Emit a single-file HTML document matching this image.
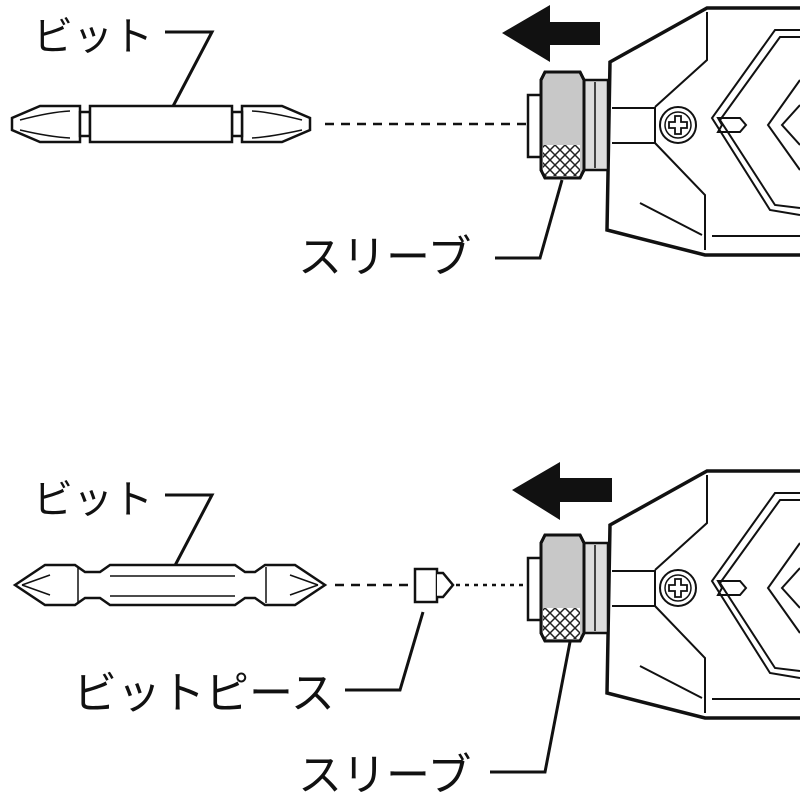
<!DOCTYPE html>
<html><head><meta charset="utf-8"><style>
html,body{margin:0;padding:0;background:#fff}
svg{display:block}
text{font-family:"Liberation Sans","Noto Sans CJK JP",sans-serif;fill:#111}
</style></head><body>
<svg width="800" height="800" viewBox="0 0 800 800" xmlns="http://www.w3.org/2000/svg">
<defs>
<pattern id="kn" width="10" height="10" patternUnits="userSpaceOnUse">
<rect width="10" height="10" fill="#fff"/>
<path d="M0 0L10 10M10 0L0 10" stroke="#222" stroke-width="1.5"/>
</pattern>
<g id="tool" stroke="#111" fill="none">
<path d="M800 8H707L610 62L607 230L705 255H800" stroke-width="3.5"/>
<path d="M707 12V60L655 107M655 143L705 195V250M640 203L702 235M712 236H800" stroke-width="2"/>
<path d="M612 108H655V143H612" stroke-width="2"/>
<path d="M800 30H775L712 118L770 210L800 215M800 37H780L720 120L775 205L800 208M800 80L768 125L800 170M800 105L782 125L800 145" stroke-width="2"/>
<path d="M718 118H740L746 125L740 132H718L722 125Z" stroke-width="2"/>
<circle cx="678" cy="125" r="18" stroke-width="2"/>
<circle cx="678" cy="125" r="13" stroke-width="1.5"/>
<path d="M675 116h6v6h6v6h-6v6h-6v-6h-6v-6h6z" stroke-width="1.8"/>
<rect x="528" y="95" width="13" height="62" fill="#fff" stroke-width="2.5"/>
<rect x="582" y="80" width="26" height="90" fill="#ddd" stroke-width="2.5"/>
<line x1="595" y1="82" x2="595" y2="168" stroke-width="1.5"/>
<path d="M545 72H580L584 80V170L580 178H545L541 170V80Z" fill="#c8c8c8" stroke-width="3"/>
<path d="M543 145H580V176H543Z" fill="url(#kn)" stroke="none"/>
<path d="M545 72H580L584 80V170L580 178H545L541 170V80Z" stroke-width="3"/>
</g>
</defs>

<!-- TOP -->
<text x="33" y="50" font-size="40">ビット</text>
<path d="M165 32H212L170 112" fill="none" stroke="#111" stroke-width="3"/>
<g stroke="#111" stroke-width="2.5" fill="#fff">
<path d="M80 106H40L12 118V130L40 142H80Z"/>
<path d="M242 106H282L310 118V130L282 142H242Z"/>
<rect x="80" y="112" width="10" height="24"/>
<rect x="232" y="112" width="10" height="24"/>
<rect x="90" y="106" width="142" height="36"/>
<path d="M20 120Q50 112 70 111M20 130Q50 137 70 138M302 120Q270 112 252 111M302 130Q270 137 252 138" fill="none" stroke-width="1.5"/>
</g>
<line x1="325" y1="124" x2="528" y2="124" stroke="#111" stroke-width="2.5" stroke-dasharray="9,7"/>
<path d="M502 33L550 5V22H600V45H550V62Z" fill="#111"/>
<use href="#tool"/>
<path d="M562 180L540 258H495" fill="none" stroke="#111" stroke-width="3"/>
<text x="298" y="272" font-size="44">スリーブ</text>

<!-- BOTTOM -->
<text x="33" y="513" font-size="40">ビット</text>
<path d="M165 495H212L170 575" fill="none" stroke="#111" stroke-width="3"/>
<g stroke="#111" stroke-width="2.5" fill="#fff">
<path d="M15 585L45 565H75L85 572L100 572L110 565H235L245 572L255 572L265 565H295L325 585L295 605H265L255 598L245 598L235 605H110L100 598L85 598L75 605H45Z"/>
<path d="M110 576H235M110 596H235M78 567V603M266 567V603M22 585L50 575M22 585L50 595M318 585L290 575M318 585L290 595" fill="none" stroke-width="1.5"/>
</g>
<line x1="335" y1="585" x2="410" y2="585" stroke="#111" stroke-width="2.5" stroke-dasharray="9,7"/>
<line x1="456" y1="585" x2="525" y2="585" stroke="#111" stroke-width="2.5" stroke-dasharray="4,5"/>
<rect x="415" y="569" width="22" height="33" fill="#fff" stroke="#111" stroke-width="2.5"/>
<path d="M437 573L443 573L453 585L443 597L437 597" fill="#fff" stroke="#111" stroke-width="2.5"/>
<path d="M423 612L400 690H345" fill="none" stroke="#111" stroke-width="3"/>
<text x="73" y="708" font-size="44">ビットピース</text>
<path d="M512 490L560 462V478H612V502H560V520Z" fill="#111"/>
<use href="#tool" transform="translate(0,463)"/>
<path d="M570 642L545 772H490" fill="none" stroke="#111" stroke-width="3"/>
<text x="298" y="790" font-size="44">スリーブ</text>
</svg>
</body></html>
